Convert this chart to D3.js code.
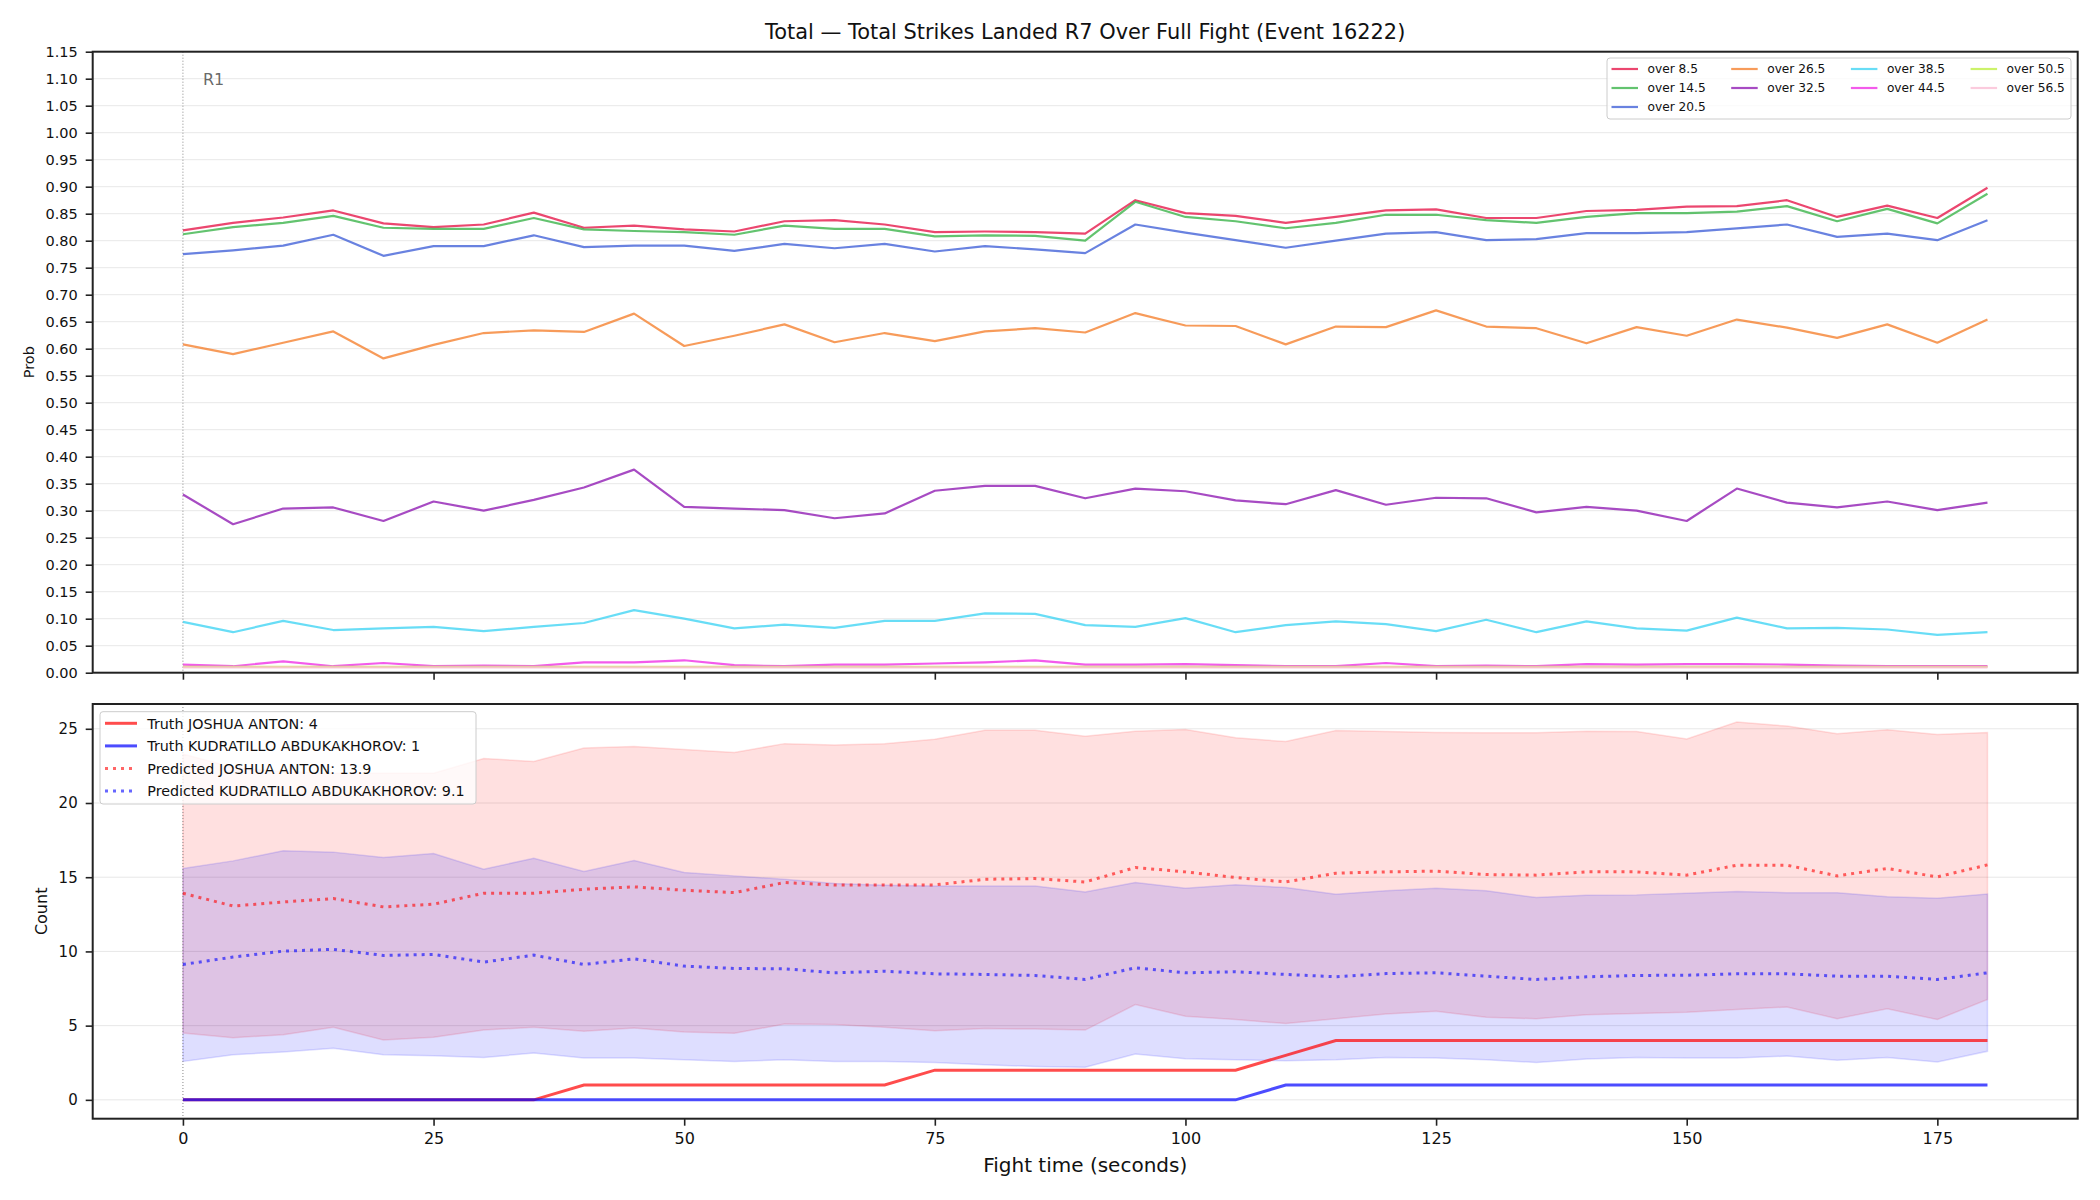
<!DOCTYPE html>
<html>
<head>
<meta charset="utf-8">
<style>
  body { margin: 0; background: #fff; }
  svg { display: block; font-family: "DejaVu Sans", sans-serif; }
</style>
</head>
<body>
<svg width="2100" height="1200"></svg>
<script src="https://d3js.org/d3.v7.min.js"></script>
<script>
  // ---- data ----
  var times = [0, 5, 10, 15, 20, 25, 30, 35, 40, 45, 50, 55, 60, 65, 70, 75, 80, 85, 90,
               95, 100, 105, 110, 115, 120, 125, 130, 135, 140, 145, 150, 155, 160, 165, 170, 175, 180];

  var overLabels = ["over 8.5", "over 14.5", "over 20.5", "over 26.5", "over 32.5",
                    "over 38.5", "over 44.5", "over 50.5", "over 56.5"];

  var over8_5  = [.819, .833, .843, .856, .832, .825, .830, .852, .824, .828, .821, .817, .836, .838, .830, .816, .817, .816, .813,
                  .875, .851, .846, .833, .844, .856, .858, .842, .842, .855, .857, .863, .864, .875, .844, .865, .842, .898];
  var over14_5 = [.812, .825, .833, .846, .824, .822, .822, .842, .821, .818, .816, .811, .828, .822, .822, .808, .810, .809, .800,
                  .872, .844, .836, .823, .833, .848, .848, .838, .833, .844, .851, .851, .854, .864, .836, .859, .832, .887];
  var over20_5 = [.775, .782, .791, .811, .772, .790, .790, .810, .788, .791, .791, .781, .794, .786, .794, .780, .790, .784, .777,
                  .830, .815, .801, .787, .800, .813, .816, .801, .803, .814, .814, .816, .823, .830, .807, .813, .801, .838];
  var over26_5 = [.608, .590, .611, .632, .582, .607, .629, .634, .631, .665, .605, .624, .645, .612, .629, .614, .632, .638, .630,
                  .666, .643, .642, .608, .641, .640, .671, .641, .638, .610, .640, .624, .654, .639, .620, .645, .611, .654];
  var over32_5 = [.330, .275, .304, .306, .281, .317, .300, .320, .343, .376, .307, .304, .301, .286, .295, .337, .346, .346, .323,
                  .341, .336, .319, .312, .338, .311, .324, .323, .297, .307, .300, .281, .341, .315, .306, .317, .301, .315];
  var over38_5 = [.094, .075, .096, .079, .082, .085, .077, .085, .092, .116, .100, .082, .089, .083, .096, .096, .110, .109, .088,
                  .085, .101, .075, .088, .095, .090, .077, .098, .075, .095, .082, .078, .102, .082, .083, .080, .070, .075];
  var over44_5 = [.015, .012, .021, .012, .018, .012, .013, .012, .019, .019, .023, .014, .012, .015, .015, .017, .019, .023, .015,
                  .015, .016, .014, .012, .012, .018, .012, .013, .012, .016, .015, .016, .016, .015, .013, .012, .012, .012];
  var over50_5 = [.011, .011, .011, .011, .011, .011, .011, .011, .011, .011, .011, .011, .011, .011, .011, .011, .011, .011, .011,
                  .011, .011, .011, .011, .011, .011, .011, .011, .011, .011, .011, .011, .011, .011, .011, .011, .011, .011];
  var over56_5 = [.010, .010, .010, .010, .010, .010, .010, .010, .010, .010, .010, .010, .010, .010, .010, .010, .010, .010, .010,
                  .010, .010, .010, .010, .010, .010, .010, .010, .010, .010, .010, .010, .010, .010, .010, .010, .010, .010];

  var truthAnton = [0, 0, 0, 0, 0, 0, 0, 0, 1, 1, 1, 1, 1, 1, 1, 2, 2, 2, 2,
                    2, 2, 2, 3, 4, 4, 4, 4, 4, 4, 4, 4, 4, 4, 4, 4, 4, 4];
  var truthAbdu  = [0, 0, 0, 0, 0, 0, 0, 0, 0, 0, 0, 0, 0, 0, 0, 0, 0, 0, 0,
                    0, 0, 0, 1, 1, 1, 1, 1, 1, 1, 1, 1, 1, 1, 1, 1, 1, 1];
  var predAnton  = [13.92, 13.06, 13.33, 13.56, 13.0, 13.18, 13.92, 13.92, 14.19, 14.35, 14.12, 13.96, 14.64, 14.48, 14.48, 14.48, 14.86, 14.91, 14.68,
                    15.65, 15.36, 14.98, 14.68, 15.27, 15.36, 15.41, 15.18, 15.14, 15.36, 15.36, 15.14, 15.81, 15.81, 15.09, 15.59, 15.02, 15.83];
  var predAbdu   = [9.12, 9.62, 10.02, 10.14, 9.73, 9.80, 9.28, 9.75, 9.12, 9.50, 9.01, 8.85, 8.83, 8.56, 8.67, 8.49, 8.45, 8.38, 8.11,
                    8.90, 8.56, 8.63, 8.45, 8.29, 8.51, 8.56, 8.33, 8.11, 8.29, 8.38, 8.40, 8.49, 8.49, 8.33, 8.33, 8.11, 8.56];
  var loAnton    = [4.50, 4.19, 4.39, 4.89, 4.03, 4.21, 4.71, 4.89, 4.62, 4.84, 4.57, 4.48, 5.11, 5.07, 4.89, 4.66, 4.80, 4.77, 4.70,
                    6.42, 5.63, 5.41, 5.14, 5.47, 5.79, 5.97, 5.56, 5.47, 5.74, 5.81, 5.90, 6.08, 6.26, 5.47, 6.13, 5.41, 6.76];
  var hiAnton    = [23.3, 22.4, 22.1, 22.0, 22.0, 22.0, 23.0, 22.8, 23.7, 23.8, 23.6, 23.4, 24.0, 23.9, 24.0, 24.3, 24.9, 24.9, 24.5,
                    24.84, 24.95, 24.39, 24.14, 24.89, 24.82, 24.75, 24.73, 24.73, 24.84, 24.82, 24.32, 25.45, 25.18, 24.66, 24.93, 24.62, 24.75];
  var loAbdu     = [2.59, 3.04, 3.22, 3.47, 3.04, 2.97, 2.86, 3.15, 2.82, 2.82, 2.70, 2.59, 2.70, 2.59, 2.59, 2.52, 2.36, 2.25, 2.20,
                    3.09, 2.77, 2.70, 2.64, 2.70, 2.86, 2.82, 2.70, 2.52, 2.75, 2.86, 2.82, 2.82, 2.95, 2.66, 2.86, 2.55, 3.27];
  var hiAbdu     = [15.59, 16.10, 16.78, 16.69, 16.33, 16.60, 15.54, 16.28, 15.38, 16.13, 15.32, 15.09, 14.86, 14.57, 14.46, 14.41, 14.41, 14.41, 14.0,
                    14.64, 14.26, 14.50, 14.30, 13.85, 14.08, 14.26, 14.08, 13.63, 13.78, 13.81, 13.92, 14.03, 13.96, 13.96, 13.69, 13.58, 13.87];

  var probTicks = [0, .05, .10, .15, .20, .25, .30, .35, .40, .45, .50, .55, .60, .65, .70, .75, .80, .85, .90, .95, 1.00, 1.05, 1.10, 1.15];
  var countTicks = [0, 5, 10, 15, 20, 25];
  var timeTicks = [0, 25, 50, 75, 100, 125, 150, 175];

  var bottomLegend = ["Truth JOSHUA ANTON: 4", "Truth KUDRATILLO ABDUKAKHOROV: 1",
                      "Predicted JOSHUA ANTON: 13.9", "Predicted KUDRATILLO ABDUKAKHOROV: 9.1"];

  // ---- layout ----
  var svg = d3.select("svg"),
      left = 92.7, right = 2077.7,
      top1 = 51.7, bot1 = 672.7,
      top2 = 704, bot2 = 1118.7;

  var probSeries = [over8_5, over14_5, over20_5, over26_5, over32_5, over38_5, over44_5, over50_5, over56_5];
  var probColors = ["#e6194b", "#3cb44b", "#4363d8", "#f58231", "#911eb4", "#42d4f4", "#f032e6", "#bfef45", "#fabed4"];

  var x = d3.scaleLinear().domain([-9, 189]).range([left, right]);
  var yTop = d3.scaleLinear().domain([0, 1.15]).range([bot1, top1]);
  var yBot = d3.scaleLinear().domain([-1.27, 26.67]).range([bot2, top2]);

  svg.append("text")
      .attr("x", (left + right) / 2).attr("y", 38.5)
      .attr("text-anchor", "middle")
      .attr("font-size", "20.9px").attr("fill", "#111")
      .text("Total \u2014 Total Strikes Landed R7 Over Full Fight (Event 16222)");

  function grid(g, y, ticks) {
    g.selectAll("line.grid").data(ticks).enter().append("line")
        .attr("x1", left).attr("x2", right)
        .attr("y1", function(d) { return y(d); })
        .attr("y2", function(d) { return y(d); })
        .attr("stroke", "#b0b0b0").attr("stroke-opacity", 0.3).attr("stroke-width", 1);
  }

  function styleAxis(g, size) {
    g.select(".domain").remove();
    g.selectAll(".tick line").attr("stroke", "#222").attr("stroke-width", 1.6);
    g.selectAll(".tick text").attr("fill", "#111").attr("font-size", size)
        .attr("font-family", "DejaVu Sans, sans-serif");
  }

  function vline(g, y0, y1) {
    g.append("line")
        .attr("x1", x(0)).attr("x2", x(0)).attr("y1", y0).attr("y2", y1)
        .attr("stroke", "#888").attr("stroke-width", 1).attr("stroke-dasharray", "1,2");
  }

  // ---- top panel: probabilities ----
  var g1 = svg.append("g");
  grid(g1, yTop, probTicks);
  vline(g1, top1, bot1);

  g1.append("text")
      .attr("x", x(2)).attr("y", yTop(1.10) + 6)
      .attr("font-size", "16px").attr("fill", "#555").attr("fill-opacity", 0.9)
      .text("R1");

  var line1 = d3.line()
      .x(function(d, i) { return x(times[i]); })
      .y(function(d) { return yTop(d); });

  probSeries.forEach(function(s, i) {
    g1.append("path")
        .datum(s)
        .attr("fill", "none")
        .attr("stroke", probColors[i])
        .attr("stroke-opacity", 0.8)
        .attr("stroke-width", 2.2)
        .attr("stroke-linejoin", "round")
        .attr("d", line1);
  });

  g1.append("g")
      .attr("transform", "translate(" + left + ",0)")
      .call(d3.axisLeft(yTop).tickValues(probTicks).tickFormat(d3.format(".2f")).tickSize(7).tickPadding(8))
      .call(styleAxis, "14.5px");

  g1.append("g")
      .attr("transform", "translate(0," + bot1 + ")")
      .call(d3.axisBottom(x).tickValues(timeTicks).tickSize(7).tickFormat(""))
      .call(styleAxis, "14.5px");

  g1.append("text")
      .attr("transform", "translate(34," + ((top1 + bot1) / 2) + ") rotate(-90)")
      .attr("text-anchor", "middle")
      .attr("font-size", "14.5px").attr("fill", "#111")
      .text("Prob");

  // top legend (4 columns, filled column-wise)
  var lg1 = svg.append("g");
  lg1.append("rect")
      .attr("x", 1607).attr("y", 58).attr("width", 464).attr("height", 61).attr("rx", 3)
      .attr("fill", "#fff").attr("fill-opacity", 0.8)
      .attr("stroke", "#ccc").attr("stroke-width", 1);
  var colOf = [0, 0, 0, 1, 1, 2, 2, 3, 3],
      rowOf = [0, 1, 2, 0, 1, 0, 1, 0, 1];
  overLabels.forEach(function(lab, i) {
    var lx = 1611.5 + colOf[i] * 119.7, ly = 69 + rowOf[i] * 19;
    lg1.append("line")
        .attr("x1", lx).attr("x2", lx + 26.5).attr("y1", ly).attr("y2", ly)
        .attr("stroke", probColors[i]).attr("stroke-opacity", 0.8).attr("stroke-width", 2.2);
    lg1.append("text")
        .attr("x", lx + 36).attr("y", ly + 4.3)
        .attr("font-size", "12.2px").attr("fill", "#111")
        .text(lab);
  });

  // ---- bottom panel: counts ----
  var g2 = svg.append("g");
  grid(g2, yBot, countTicks);

  function band(lo, hi, color, op) {
    var area = d3.area()
        .x(function(d, i) { return x(times[i]); })
        .y0(function(d, i) { return yBot(lo[i]); })
        .y1(function(d, i) { return yBot(hi[i]); });
    g2.append("path")
        .datum(times)
        .attr("fill", color).attr("fill-opacity", op)
        .attr("stroke", color).attr("stroke-opacity", op).attr("stroke-width", 1.5)
        .attr("d", area);
  }
  band(loAnton, hiAnton, "red", 0.12);
  band(loAbdu, hiAbdu, "blue", 0.13);

  vline(g2, top2, bot2);

  var line2 = d3.line()
      .x(function(d, i) { return x(times[i]); })
      .y(function(d) { return yBot(d); });

  var bottomStyles = [
    {data: truthAnton, color: "red", op: 0.7, dash: null},
    {data: truthAbdu, color: "blue", op: 0.7, dash: null},
    {data: predAnton, color: "red", op: 0.6, dash: "3,5"},
    {data: predAbdu, color: "blue", op: 0.6, dash: "3,5"}
  ];
  bottomStyles.forEach(function(s) {
    g2.append("path")
        .datum(s.data)
        .attr("fill", "none")
        .attr("stroke", s.color).attr("stroke-opacity", s.op)
        .attr("stroke-width", 3)
        .attr("stroke-dasharray", s.dash)
        .attr("d", line2);
  });

  g2.append("g")
      .attr("transform", "translate(" + left + ",0)")
      .call(d3.axisLeft(yBot).tickValues(countTicks).tickSize(7).tickPadding(8))
      .call(styleAxis, "15px");

  g2.append("g")
      .attr("transform", "translate(0," + bot2 + ")")
      .call(d3.axisBottom(x).tickValues(timeTicks).tickSize(7).tickPadding(7))
      .call(styleAxis, "16px");

  g2.append("text")
      .attr("transform", "translate(47," + ((top2 + bot2) / 2) + ") rotate(-90)")
      .attr("text-anchor", "middle")
      .attr("font-size", "16px").attr("fill", "#111")
      .text("Count");

  svg.append("text")
      .attr("x", (left + right) / 2).attr("y", 1172)
      .attr("text-anchor", "middle")
      .attr("font-size", "20px").attr("fill", "#111")
      .text("Fight time (seconds)");

  // bottom legend
  var lg2 = svg.append("g");
  lg2.append("rect")
      .attr("x", 100).attr("y", 711.7).attr("width", 376).attr("height", 92.3).attr("rx", 3)
      .attr("fill", "#fff").attr("fill-opacity", 0.8)
      .attr("stroke", "#ccc").attr("stroke-width", 1);
  bottomLegend.forEach(function(lab, i) {
    var ly = 723.3 + i * 22.6, s = bottomStyles[i];
    lg2.append("line")
        .attr("x1", 105).attr("x2", 137).attr("y1", ly).attr("y2", ly)
        .attr("stroke", s.color).attr("stroke-opacity", s.op).attr("stroke-width", 3)
        .attr("stroke-dasharray", s.dash);
    lg2.append("text")
        .attr("x", 147.3).attr("y", ly + 5.2)
        .attr("font-size", "14.3px").attr("fill", "#111")
        .text(lab);
  });

  // frames
  [[top1, bot1], [top2, bot2]].forEach(function(r) {
    svg.append("rect")
        .attr("x", left).attr("y", r[0]).attr("width", right - left).attr("height", r[1] - r[0])
        .attr("fill", "none").attr("stroke", "#222").attr("stroke-width", 2);
  });
</script>
</body>
</html>
